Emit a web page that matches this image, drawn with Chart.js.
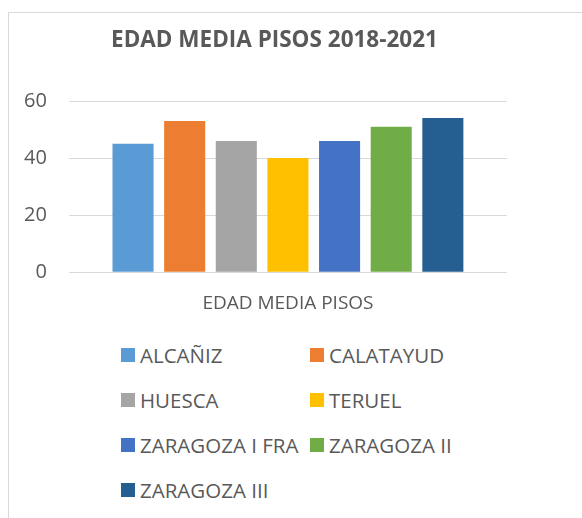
<!DOCTYPE html>
<html lang="es">
<head>
  <meta charset="UTF-8">
  <title>Edad media pisos 2018-2021</title>
  <script src="https://cdn.jsdelivr.net/npm/chart.js"></script>
  <style>
    body { margin: 0; background: #fff; font-family: "Open Sans", sans-serif; }
    #page { position: relative; width: 582px; height: 518px; overflow: hidden; }
    #frame { position: absolute; left: 8px; top: 12px; width: 620px; height: 600px; border: 1px solid #d9d9d9; }
    #wrap { position: absolute; left: 0; top: 0; width: 582px; height: 330px; }
    #legend { position: absolute; left: 121px; top: 340px; width: 420px; }
    #legend ul { list-style: none; margin: 0; padding: 0; display: grid; grid-template-columns: 189px 220px; grid-auto-rows: 45px; }
    #legend li { display: flex; align-items: center; height: 30px; font-size: 20.5px; color: #595959; white-space: nowrap; }
    #legend li span { display: inline-block; width: 14px; height: 14px; margin-right: 5px; flex: none; }
  </style>
</head>
<body>
  <div id="page">
    <div id="frame"></div>
    <div id="wrap"><canvas id="grafico"></canvas></div>
    <!-- Leyenda en dos columnas -->
    <div id="legend"></div>
  </div>

<script>
  const categorias = ['EDAD MEDIA PISOS'];
  const oficinas = ['ALCAÑIZ', 'CALATAYUD', 'HUESCA', 'TERUEL', 'ZARAGOZA I FRA', 'ZARAGOZA II', 'ZARAGOZA III'];
  const edades = [45, 53, 46, 40, 46, 51, 54];
  const colores = ['#5B9BD5', '#ED7D31', '#A5A5A5', '#FFC000', '#4472C4', '#70AD47', '#255E91'];
  const ticksY = [0, 20, 40, 60];

  // leyenda HTML a partir de los datasets
  const htmlLegend = {
    id: 'htmlLegend',
    afterUpdate(chart) {
      const cont = document.getElementById('legend');
      cont.innerHTML = '';
      const ul = document.createElement('ul');
      chart.options.plugins.legend.labels.generateLabels(chart).forEach(item => {
        const li = document.createElement('li');
        const box = document.createElement('span');
        box.style.background = item.fillStyle;
        li.appendChild(box);
        li.appendChild(document.createTextNode(item.text));
        ul.appendChild(li);
      });
      cont.appendChild(ul);
    }
  };

  // el título del original está un poco a la derecha del centro
  const moverTitulo = {
    id: 'moverTitulo',
    afterLayout(chart) {
      if (chart.titleBlock) chart.titleBlock.left = 42;
    }
  };

  const ctx = document.getElementById('grafico').getContext('2d');
  new Chart(ctx, {
    type: 'bar',
    data: {
      labels: categorias,
      datasets: oficinas.map((nombre, i) => ({
        label: nombre,
        data: [edades[i]],
        backgroundColor: colores[i],
        barPercentage: 0.795,
        categoryPercentage: 0.825
      }))
    },
    options: {
      responsive: true,
      maintainAspectRatio: false,
      animation: false,
      layout: { padding: { left: 2, right: 75, top: 18, bottom: 3 } },
      plugins: {
        legend: { display: false },
        tooltip: { enabled: false },
        title: {
          display: true,
          text: 'EDAD MEDIA PISOS 2018-2021',
          color: '#595959',
          font: { family: 'Open Sans', size: 22.5, weight: 'bold' },
          padding: { top: 9, bottom: 47 }
        }
      },
      scales: {
        x: {
          grid: { display: false },
          border: { display: false },
          ticks: { color: '#595959', font: { family: 'Open Sans', size: 19 }, padding: 12 }
        },
        y: {
          min: 0,
          max: 60,
          afterBuildTicks(axis) { axis.ticks = ticksY.map(v => ({ value: v })); },
          grid: { color: '#d9d9d9', lineWidth: 1, drawTicks: false },
          border: { display: false },
          ticks: { color: '#595959', font: { family: 'Open Sans', size: 20 }, padding: 22 }
        }
      }
    },
    plugins: [htmlLegend, moverTitulo]
  });
</script>
</body>
</html>
